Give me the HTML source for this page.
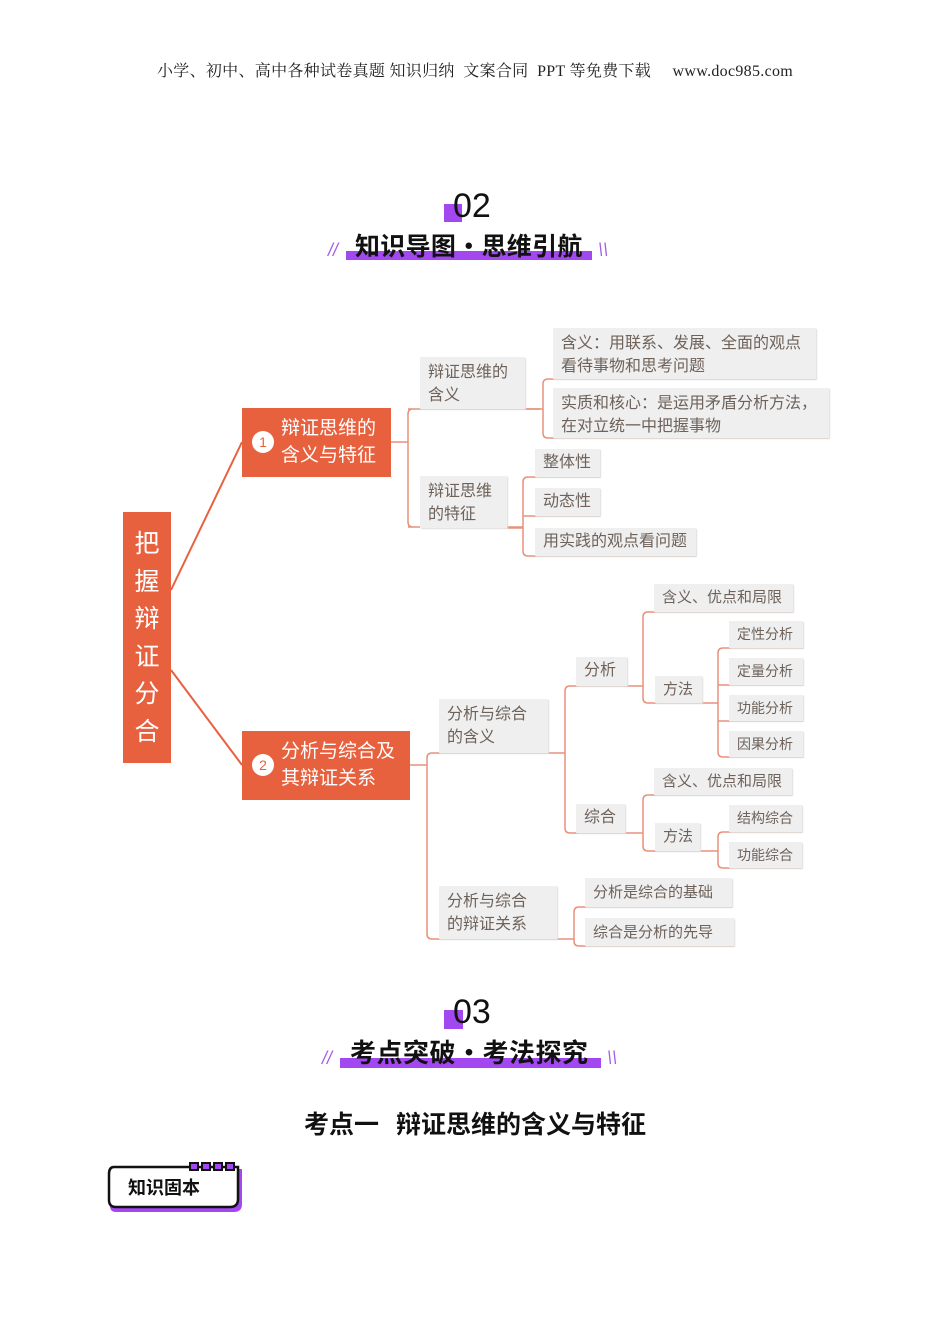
<!DOCTYPE html>
<html><head><meta charset="utf-8"><style>
body{margin:0;background:#fff;}
#p{position:relative;width:950px;height:1344px;overflow:hidden;font-family:"Liberation Sans","Noto Sans CJK SC",sans-serif;}
.a{position:absolute;}
.b{position:absolute;background:#efefef;color:#6e625b;font-size:16px;line-height:23px;box-sizing:border-box;padding:4px 8px;box-shadow:1px 1px 1px #ddd;white-space:nowrap;}
.o{position:absolute;background:#e8613f;color:#fff;}
.t{position:absolute;font-weight:bold;font-size:25px;color:#111;white-space:nowrap;font-family:"Noto Sans CJK SC",sans-serif;}
.sl{position:absolute;color:#a35ee8;font-size:18px;font-style:italic;}
</style></head><body><div id="p">
<div class="a" style="left:0;width:950px;top:58px;text-align:center;font-family:'Liberation Serif','Noto Serif CJK SC',serif;font-size:16px;letter-spacing:0.3px;color:#222;">小学、初中、高中各种试卷真题&nbsp;知识归纳&nbsp;&nbsp;文案合同&nbsp;&nbsp;PPT 等免费下载&nbsp;&nbsp;&nbsp;&nbsp;&nbsp;www.doc985.com</div>

<!-- header 02 -->
<div class="a" style="left:444px;top:204px;width:18px;height:18px;background:#a347f0"></div>
<div class="a" style="left:453px;top:188px;font-size:34px;line-height:36px;color:#111;">02</div>
<div class="a" style="left:346px;top:251px;width:246px;height:9px;background:#a347f0"></div>
<div class="t" style="left:355px;top:228px;line-height:34px;letter-spacing:0.3px;">知识导图•思维引航</div>
<div class="sl" style="left:328px;top:240px;">//</div><div class="sl" style="left:598px;top:240px;">\\</div>

<!-- header 03 -->
<div class="a" style="left:444px;top:1010px;width:19px;height:19px;background:#a347f0"></div>
<div class="a" style="left:453px;top:994px;font-size:34px;line-height:36px;color:#111;">03</div>
<div class="a" style="left:340px;top:1058px;width:261px;height:10px;background:#a347f0"></div>
<div class="t" style="left:350px;top:1035px;line-height:34px;font-size:26px;letter-spacing:0.5px;">考点突破•考法探究</div>
<div class="sl" style="left:322px;top:1048px;">//</div><div class="sl" style="left:607px;top:1048px;">\\</div>
<div class="t" style="left:0;width:950px;text-align:center;top:1106px;font-size:25px;line-height:34px;">考点一&nbsp;&nbsp;&nbsp;辩证思维的含义与特征</div>

<!-- badge -->
<svg class="a" style="left:104px;top:1160px" width="146" height="56">
<path d="M10 9 H138 V44 Q138 52 130 52 H12 Q6 52 6 46 V14" fill="#a347f0"/>
<path d="M10 7 H134 V39 Q134 47 126 47 H12 Q5 47 5 40 V14 Q5 7 10 7Z" fill="#fff" stroke="#111" stroke-width="2.5"/>
<rect x="86" y="3" width="8" height="7" fill="#a347f0" stroke="#111" stroke-width="2"/>
<rect x="98" y="3" width="8" height="7" fill="#a347f0" stroke="#111" stroke-width="2"/>
<rect x="110" y="3" width="8" height="7" fill="#a347f0" stroke="#111" stroke-width="2"/>
<rect x="122" y="3" width="8" height="7" fill="#a347f0" stroke="#111" stroke-width="2"/>
</svg>
<div class="a" style="left:128px;top:1175px;font-size:18px;font-weight:bold;color:#111;font-family:'Noto Sans CJK SC',sans-serif;line-height:24px;">知识固本</div>

<!-- connectors -->
<svg class="a" style="left:0;top:0" width="950" height="1344" fill="none" stroke="#e7917b" stroke-width="1.5">
<path d="M171 590 L242 442" stroke="#e8613f" stroke-width="2"/>
<path d="M171 670 L242 765" stroke="#e8613f" stroke-width="2"/>
<path d="M391 442 H408 M413 409 Q408 409 408 414 V522 Q408 527 413 527 M408 409 H540 M408 527 H523"/>
<path d="M525 409 H543 M548 379 Q543 379 543 384 V433 Q543 438 548 438 H829 M548 379 H816"/>
<path d="M507 528 H523 M528 477 Q523 477 523 482 V551 Q523 556 528 556 H696 M528 477 H600 M523 516 H600"/>
<path d="M410 765 H427 M432 753 Q427 753 427 758 V934 Q427 939 432 939 H574 M432 753 H565"/>
<path d="M570 686 Q565 686 565 691 V828 Q565 833 570 833 H643 M570 686 H643"/>
<path d="M648 612 Q643 612 643 617 V698 Q643 703 648 703 H718 M648 612 H793"/>
<path d="M723 648 Q718 648 718 653 V752 Q718 757 723 757 H803 M723 648 H803 M718 685 H803 M718 721 H803"/>
<path d="M648 795 Q643 795 643 800 V846 Q643 851 648 851 H718 M648 795 H792"/>
<path d="M723 832 Q718 832 718 837 V863 Q718 868 723 868 H802 M723 832 H802"/>
<path d="M579 907 Q574 907 574 912 V941 Q574 946 579 946 H734 M579 907 H732"/>
</svg>

<!-- root & level1 -->
<div class="o" style="left:123px;top:512px;width:48px;height:251px;font-size:25px;line-height:37.5px;text-align:center;padding-top:14px;box-sizing:border-box;">把<br>握<br>辩<br>证<br>分<br>合</div>
<div class="o" style="left:242px;top:408px;width:149px;height:69px;font-size:19px;line-height:27px;padding:7px 0 0 39px;box-sizing:border-box;">辩证思维的<br>含义与特征</div>
<div class="a" style="left:252px;top:431px;width:22px;height:22px;border-radius:50%;background:#fff;color:#e8613f;font-size:14px;line-height:22px;text-align:center;">1</div>
<div class="o" style="left:242px;top:731px;width:168px;height:69px;font-size:19px;line-height:27px;padding:7px 0 0 39px;box-sizing:border-box;">分析与综合及<br>其辩证关系</div>
<div class="a" style="left:252px;top:754px;width:22px;height:22px;border-radius:50%;background:#fff;color:#e8613f;font-size:14px;line-height:22px;text-align:center;">2</div>

<!-- boxes -->
<div class="b" style="left:420px;top:357px;width:105px;height:52px;">辩证思维的<br>含义</div>
<div class="b" style="left:553px;top:328px;width:263px;height:51px;">含义：用联系、发展、全面的观点<br>看待事物和思考问题</div>
<div class="b" style="left:553px;top:388px;width:276px;height:50px;">实质和核心：是运用矛盾分析方法，<br>在对立统一中把握事物</div>
<div class="b" style="left:420px;top:476px;width:87px;height:52px;">辩证思维<br>的特征</div>
<div class="b" style="left:535px;top:449px;width:65px;height:28px;padding-top:2px;">整体性</div>
<div class="b" style="left:535px;top:488px;width:65px;height:28px;padding-top:2px;">动态性</div>
<div class="b" style="left:535px;top:528px;width:161px;height:28px;padding-top:2px;">用实践的观点看问题</div>

<div class="b" style="left:439px;top:699px;width:109px;height:54px;">分析与综合<br>的含义</div>
<div class="b" style="left:439px;top:886px;width:118px;height:53px;">分析与综合<br>的辩证关系</div>
<div class="b" style="left:576px;top:657px;width:51px;height:29px;padding-top:2px;">分析</div>
<div class="b" style="left:576px;top:804px;width:49px;height:29px;padding-top:2px;">综合</div>
<div class="b" style="left:654px;top:584px;width:139px;height:28px;padding-top:2px;font-size:15px;">含义、优点和局限</div>
<div class="b" style="left:655px;top:676px;width:47px;height:27px;padding-top:2px;font-size:15px;">方法</div>
<div class="b" style="left:729px;top:621px;width:74px;height:27px;padding-top:2px;font-size:14px;">定性分析</div>
<div class="b" style="left:729px;top:658px;width:74px;height:27px;padding-top:2px;font-size:14px;">定量分析</div>
<div class="b" style="left:729px;top:695px;width:74px;height:26px;padding-top:2px;font-size:14px;">功能分析</div>
<div class="b" style="left:729px;top:731px;width:74px;height:26px;padding-top:2px;font-size:14px;">因果分析</div>
<div class="b" style="left:654px;top:768px;width:138px;height:27px;padding-top:2px;font-size:15px;">含义、优点和局限</div>
<div class="b" style="left:655px;top:823px;width:45px;height:28px;padding-top:2px;font-size:15px;">方法</div>
<div class="b" style="left:729px;top:805px;width:73px;height:27px;padding-top:2px;font-size:14px;">结构综合</div>
<div class="b" style="left:729px;top:842px;width:73px;height:26px;padding-top:2px;font-size:14px;">功能综合</div>
<div class="b" style="left:585px;top:878px;width:147px;height:29px;padding-top:3px;font-size:15px;">分析是综合的基础</div>
<div class="b" style="left:585px;top:918px;width:149px;height:28px;padding-top:3px;font-size:15px;">综合是分析的先导</div>
</div></body></html>
